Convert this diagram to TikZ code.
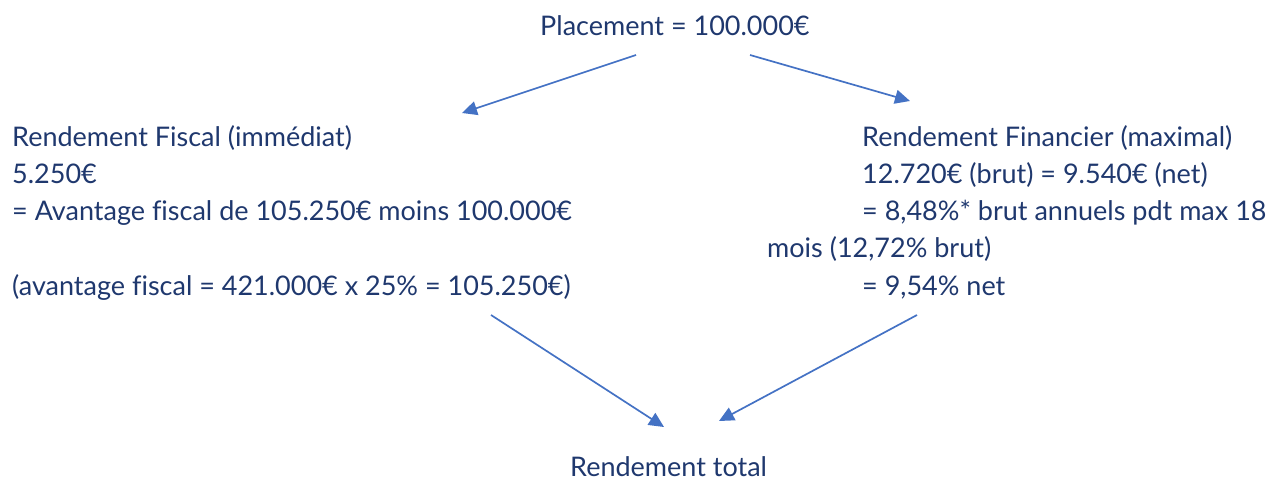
\documentclass[tikz,border=0pt]{standalone}
\usepackage{fontspec}
\setmainfont{Lato}[Ligatures={NoCommon}]
\usetikzlibrary{arrows.meta}
\definecolor{txt}{RGB}{31,56,110}
\definecolor{arr}{RGB}{68,114,196}
\begin{document}
\begin{tikzpicture}[x=1pt,y=-1pt,
  lbl/.style={anchor=base west,inner sep=0pt,text=txt,font=\fontsize{27}{37}\selectfont},
  conn/.style={draw=arr,line width=1.7pt,-{Triangle[length=15pt,width=14pt]}}]
\useasboundingbox (0,0) rectangle (1272,481);
\node[lbl] (top) at (540,36) {Placement = 100.000€};
\node[lbl] (l1) at (12,147) {Rendement Fiscal (immédiat)};
\node[lbl] (l2) at (12,184) {5.250€};
\node[lbl] (l3) at (12,221) {= Avantage fiscal de 105.250€ moins 100.000€};
\node[lbl] (l4) at (12,295) {(avantage fiscal = 421.000€ x 25\% = 105.250€)};
\node[lbl] (r1) at (862,147) {Rendement Financier (maximal)};
\node[lbl] (r2) at (862,184) {12.720€ (brut) = 9.540€ (net)};
\node[lbl] (r3) at (862,221) {= 8,48\%* brut annuels pdt max 18};
\node[lbl] (r4) at (767,258) {mois (12,72\% brut)};
\node[lbl] (r5) at (862,295) {= 9,54\% net};
\node[lbl] (bot) at (570,476) {Rendement total};
\coordinate (a1s) at (636,55);
\coordinate (a1e) at (462,113);
\coordinate (a2s) at (750,55);
\coordinate (a2e) at (910,101);
\coordinate (a3s) at (491,315);
\coordinate (a3e) at (664,427);
\coordinate (a4s) at (917,315);
\coordinate (a4e) at (719,421);
\draw[conn] (a1s) -- (a1e);
\draw[conn] (a2s) -- (a2e);
\draw[conn] (a3s) -- (a3e);
\draw[conn] (a4s) -- (a4e);
\end{tikzpicture}
\end{document}
